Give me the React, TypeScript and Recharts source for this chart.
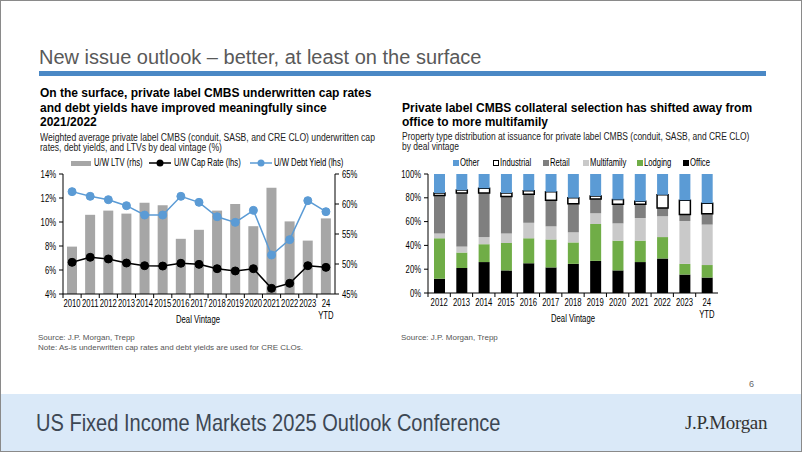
import { Bar, BarChart, ComposedChart, Line, XAxis, YAxis } from "recharts";

const SANS = '"Liberation Sans", Arial, sans-serif';
// the slide uses a narrow face; squeeze the regular one to match
const SX = 0.8;

// Left chart: underwriting metrics by deal vintage
const VINTAGES = [
  "2010", "2011", "2012", "2013", "2014", "2015", "2016", "2017",
  "2018", "2019", "2020", "2021", "2022", "2023", "24 YTD",
];
const LTV = [52.9, 58.2, 58.9, 58.4, 60.2, 59.8, 54.2, 55.7, 58.9, 60.0, 56.3, 62.7, 57.1, 53.9, 57.6];
const CAP_RATE = [6.64, 7.06, 6.92, 6.58, 6.36, 6.33, 6.56, 6.47, 6.11, 5.92, 6.11, 4.47, 4.89, 6.36, 6.22];
const DEBT_YIELD = [12.53, 12.14, 11.86, 11.36, 10.58, 10.58, 12.14, 11.64, 10.44, 9.97, 10.97, 7.25, 8.53, 11.78, 10.86];
const LEFT_TICKS = [4, 6, 8, 10, 12, 14];
const RIGHT_TICKS = [45, 50, 55, 60, 65];

// Right chart: property type mix (%) by deal vintage
const MIX_VINTAGES = [
  "2012", "2013", "2014", "2015", "2016", "2017", "2018",
  "2019", "2020", "2021", "2022", "2023", "24 YTD",
];
const OFFICE = [12, 21, 26, 19, 25, 21.5, 24.5, 27, 19, 26, 29, 15.5, 13];
const LODGING = [34, 13, 15, 23, 21, 23.5, 18, 31, 25, 18, 18, 9, 10.5];
const MULTIFAMILY = [4, 5, 6, 8, 13, 11, 8.5, 9, 14.5, 19, 17.5, 36, 34];
const RETAIL = [32, 45, 37, 31, 24, 22, 24, 12, 16, 11.5, 7, 5.5, 9];
const INDUSTRIAL = [2, 2.5, 4, 3, 3, 7, 5, 2.5, 4, 2.5, 11, 12, 9];
const OTHER = [16, 13.5, 12, 16, 14, 15, 20, 18.5, 21.5, 23, 17.5, 22, 24.5];
const PCT_TICKS = [0, 10, 20, 30, 40, 50, 60, 70, 80, 90, 100];

const uwData = VINTAGES.map((v, i) => ({
  vintage: v,
  ltv: LTV[i],
  cap: CAP_RATE[i],
  dy: DEBT_YIELD[i],
}));

const mixData = MIX_VINTAGES.map((v, i) => ({
  vintage: v,
  office: OFFICE[i],
  lodging: LODGING[i],
  multifamily: MULTIFAMILY[i],
  retail: RETAIL[i],
  industrial: INDUSTRIAL[i],
  other: OTHER[i],
}));

const tickFont = { fontSize: 10, fill: "#000", fontFamily: SANS };

function makeVintageTick(band: number) {
  return function VintageTick(props: any) {
    const { x, y, payload } = props;
    const lines = String(payload.value).split(" ");
    return (
      <g>
        <line x1={x - band / 2} x2={x - band / 2} y1={y} y2={y + 4} stroke="#000" />
        <text transform={`translate(${x},0) scale(0.77,1)`} x={0} y={y} textAnchor="middle" {...tickFont}>
          {lines.map((l, i) => (
            <tspan key={i} x={0} dy={i === 0 ? 13 : 12}>
              {l}
            </tspan>
          ))}
        </text>
      </g>
    );
  };
}

function PctTick(props: any) {
  const { x, y, payload, textAnchor } = props;
  return (
    <text
      transform={`translate(${x},${y}) scale(0.77,1)`}
      x={0}
      y={0}
      dy="0.35em"
      textAnchor={textAnchor}
      {...tickFont}
    >
      {payload.value}%
    </text>
  );
}

function UnderwritingChart() {
  // plot area 62..334 wide, 15 categories
  const Tick = makeVintageTick(272 / 15);
  return (
    <ComposedChart
      width={350}
      height={180}
      data={uwData}
      margin={{ top: 23, right: 0, bottom: 7, left: 0 }}
    >
      <XAxis
        dataKey="vintage"
        xAxisId="x"
        interval={0}
        tickSize={0}
        tickMargin={0}
        height={30}
        stroke="#000"
        tick={<Tick />}
      />
      <YAxis
        yAxisId="lhs"
        domain={[4, 14]}
        ticks={LEFT_TICKS}
        width={42}
        tickSize={4}
        tickMargin={3}
        stroke="#000"
        tick={<PctTick />}
      />
      <YAxis
        yAxisId="rhs"
        orientation="right"
        domain={[45, 65]}
        ticks={RIGHT_TICKS}
        width={36}
        tickSize={4}
        tickMargin={3}
        stroke="#000"
        tick={<PctTick />}
      />
      <Bar
        xAxisId="x"
        yAxisId="rhs"
        dataKey="ltv"
        fill="#a6a6a6"
        barSize={10}
        isAnimationActive={false}
      />
      <Line
        xAxisId="x"
        yAxisId="lhs"
        dataKey="cap"
        stroke="#000"
        strokeWidth={1.5}
        dot={{ r: 4, fill: "#000", stroke: "#000", strokeWidth: 1 }}
        isAnimationActive={false}
      />
      <Line
        xAxisId="x"
        yAxisId="lhs"
        dataKey="dy"
        stroke="#5b9bd5"
        strokeWidth={1.5}
        dot={{ r: 4, fill: "#5b9bd5", stroke: "#5b9bd5", strokeWidth: 1 }}
        isAnimationActive={false}
      />
    </ComposedChart>
  );
}

function MixChart() {
  // plot area 427..717 wide, 13 categories
  const Tick = makeVintageTick(290 / 13);
  return (
    <BarChart
      width={345}
      height={180}
      data={mixData}
      margin={{ top: 23, right: 8, bottom: 8, left: 0 }}
    >
      <XAxis
        dataKey="vintage"
        interval={0}
        tickSize={0}
        tickMargin={0}
        height={30}
        stroke="#000"
        tick={<Tick />}
      />
      <YAxis
        domain={[0, 100]}
        ticks={PCT_TICKS}
        width={47}
        tickSize={4}
        tickMargin={3}
        stroke="#000"
        tick={<PctTick />}
      />
      <Bar dataKey="office" stackId="s" fill="#000" barSize={11} isAnimationActive={false} />
      <Bar dataKey="lodging" stackId="s" fill="#70ad47" barSize={11} isAnimationActive={false} />
      <Bar dataKey="multifamily" stackId="s" fill="#c9c9c9" barSize={11} isAnimationActive={false} />
      <Bar dataKey="retail" stackId="s" fill="#7f7f7f" barSize={11} isAnimationActive={false} />
      <Bar
        dataKey="industrial"
        stackId="s"
        fill="#fff"
        stroke="#000"
        strokeWidth={1.5}
        barSize={11}
        isAnimationActive={false}
      />
      <Bar dataKey="other" stackId="s" fill="#5b9bd5" barSize={11} isAnimationActive={false} />
    </BarChart>
  );
}

const abs = (left: number, top: number, extra: React.CSSProperties = {}): React.CSSProperties => ({
  position: "absolute",
  left,
  top,
  whiteSpace: "nowrap",
  ...extra,
});

// horizontally squeezed text block
function Squeeze({ s, children }: { s: number; children: React.ReactNode }) {
  return (
    <span style={{ display: "inline-block", transform: `scaleX(${s})`, transformOrigin: "left top" }}>
      {children}
    </span>
  );
}

const legendText: React.CSSProperties = { fontSize: 10, fontFamily: SANS, color: "#000", lineHeight: "12px" };

function LineKey({ color, left }: { color: string; left: number }) {
  return (
    <svg width={22} height={10} style={abs(left, 157)}>
      <line x1={0} x2={22} y1={5} y2={5} stroke={color} strokeWidth={1.5} />
      <circle cx={11} cy={5} r={3.5} fill={color} />
    </svg>
  );
}

const MIX_LEGEND = [
  { label: "Other", color: "#5b9bd5", left: 452 },
  { label: "Industrial", color: "#fff", left: 492, border: true },
  { label: "Retail", color: "#7f7f7f", left: 542 },
  { label: "Multifamily", color: "#c9c9c9", left: 582 },
  { label: "Lodging", color: "#70ad47", left: 636 },
  { label: "Office", color: "#000", left: 682 },
];

export default function App() {
  return (
    <div
      style={{
        position: "absolute",
        left: 0,
        top: 0,
        width: 802,
        height: 452,
        background: "#fff",
        border: "1px solid #8a8a8a",
        boxSizing: "border-box",
        overflow: "hidden",
        fontFamily: SANS,
      }}
    >
      <div style={abs(38, 43.5, { fontSize: 20, color: "#595959", lineHeight: "24px" })}>
        New issue outlook – better, at least on the surface
      </div>
      <div style={abs(38, 69.5, { width: 727, height: 5, background: "#4a88c5" })} />

      <div style={abs(39, 85.4, { fontSize: 12, fontWeight: "bold", lineHeight: "14.2px", color: "#000" })}>
        On the surface, private label CMBS underwritten cap rates
        <br />
        and debt yields have improved meaningfully since
        <br />
        2021/2022
      </div>
      <div style={abs(39, 131.5, { fontSize: 10, lineHeight: "10px", color: "#222" })}>
        <Squeeze s={0.86}>
          Weighted average private label CMBS (conduit, SASB, and CRE CLO) underwritten cap
          <br />
          rates, debt yields, and LTVs by deal vintage (%)
        </Squeeze>
      </div>

      <div style={abs(401, 99.8, { fontSize: 12, fontWeight: "bold", lineHeight: "14px", color: "#000" })}>
        Private label CMBS collateral selection has shifted away from
        <br />
        office to more multifamily
      </div>
      <div style={abs(401, 131, { fontSize: 10, lineHeight: "10px", color: "#222" })}>
        <Squeeze s={0.847}>
          Property type distribution at issuance for private label CMBS (conduit, SASB, and CRE CLO)
          <br />
          by deal vintage
        </Squeeze>
      </div>

      {/* left legend */}
      <div style={abs(70, 159.5, { width: 20, height: 5, background: "#a6a6a6" })} />
      <div style={abs(93, 156, legendText)}>
        <Squeeze s={0.77}>U/W LTV (rhs)</Squeeze>
      </div>
      <LineKey color="#000" left={148} />
      <div style={abs(173, 156, legendText)}>
        <Squeeze s={0.77}>U/W Cap Rate (lhs)</Squeeze>
      </div>
      <LineKey color="#5b9bd5" left={249} />
      <div style={abs(273, 156, legendText)}>
        <Squeeze s={0.77}>U/W Debt Yield (lhs)</Squeeze>
      </div>

      {/* right legend */}
      {MIX_LEGEND.map((it) => (
        <div key={it.label}>
          <div
            style={abs(it.left, 158.5, {
              width: 6,
              height: 6,
              background: it.color,
              border: it.border ? "1.5px solid #000" : "none",
              boxSizing: "border-box",
            })}
          />
          <div style={abs(it.left + 7, 155.5, legendText)}>
            <Squeeze s={0.77}>{it.label}</Squeeze>
          </div>
        </div>
      ))}

      <div style={abs(20, 150)}>
        <UnderwritingChart />
      </div>
      <div style={abs(380, 150)}>
        <MixChart />
      </div>

      <div style={abs(175, 312.5, legendText)}>
        <Squeeze s={0.77}>Deal Vintage</Squeeze>
      </div>
      <div style={abs(550, 311.5, legendText)}>
        <Squeeze s={0.77}>Deal Vintage</Squeeze>
      </div>

      <div style={abs(37, 331.8, { fontSize: 8, lineHeight: "10.3px", color: "#555" })}>
        Source: J.P. Morgan, Trepp
        <br />
        Note: As-is underwritten cap rates and debt yields are used for CRE CLOs.
      </div>
      <div style={abs(400, 331.8, { fontSize: 8, lineHeight: "10.3px", color: "#555" })}>
        Source: J.P. Morgan, Trepp
      </div>

      <div style={abs(748, 377, { fontSize: 9, lineHeight: "12px", color: "#666" })}>6</div>

      <div style={abs(0, 393, { width: 802, height: 59, background: "#dae9f8" })} />
      <div style={abs(35, 406.7, { fontSize: 24, lineHeight: "30px", color: "#3d4753" })}>
        <Squeeze s={0.835}>US Fixed Income Markets 2025 Outlook Conference</Squeeze>
      </div>
      <div
        style={abs(684, 409.6, {
          fontSize: 19,
          lineHeight: "24px",
          color: "#333",
          fontFamily: '"Liberation Serif", "DejaVu Serif", serif',
          letterSpacing: -0.3,
        })}
      >
        J.P.Morgan
      </div>
    </div>
  );
}
